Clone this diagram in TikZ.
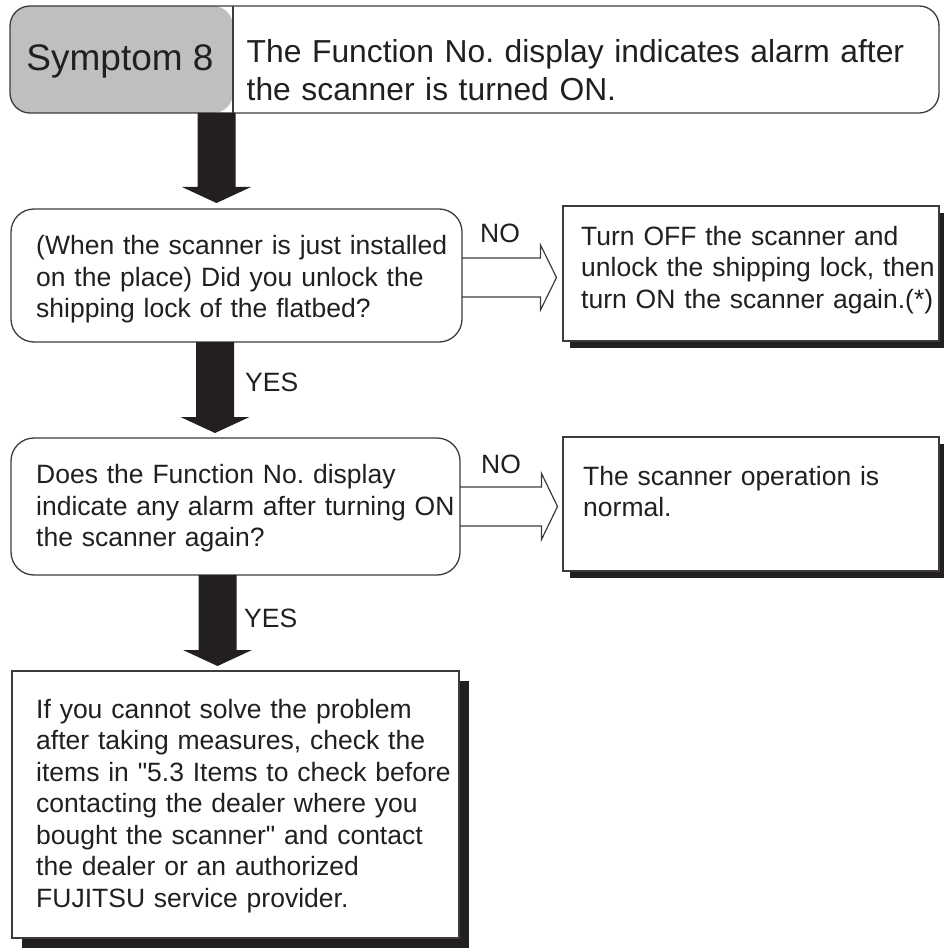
\documentclass[tikz,border=0pt]{standalone}
\usepackage{fontspec}
\setmainfont{Liberation Sans}
\usetikzlibrary{calc,shadows}
\definecolor{ink}{HTML}{231F20}
\definecolor{edgec}{HTML}{3C3C3C}
\definecolor{hdrgray}{HTML}{BEBFC1}
\begin{document}
\begin{tikzpicture}[x=1pt,y=-1pt,
  box/.style={draw=edgec, line width=1.3pt, fill=white, inner sep=0pt, outer sep=0pt, anchor=north west},
  roundbox/.style={box, rounded corners=23pt},
  shadowbox/.style={box, drop shadow={shadow xshift=#1, shadow yshift=-#1, fill=ink, opacity=1}},
  body/.style={font=\fontsize{26.5}{31.5}\selectfont, text width=440pt, align=left, inner sep=0pt, anchor=north west, text=ink},
  lbl/.style={font=\fontsize{26.5}{31.5}\selectfont, inner sep=0pt, anchor=base west, text=ink},
  outarrow/.style={draw=edgec, line width=1.2pt, line join=miter},
  fatarrow/.style={fill=ink}
]
\useasboundingbox (0,0) rectangle (943,949);

% header
\node[box, rounded corners=20pt, minimum width=929pt, minimum height=107pt,
  path picture={\fill[hdrgray] (path picture bounding box.north west) rectangle ([xshift=223pt]path picture bounding box.south west);
  \draw[edgec, line width=1.3pt] ([xshift=223pt]path picture bounding box.north west) -- ([xshift=223pt]path picture bounding box.south west);}] (hdr) at (10,6) {};
\node[font=\fontsize{37}{40}\selectfont, inner sep=0pt, anchor=base, text=ink] (sym) at (120,71) {Symptom 8};
\node[font=\fontsize{31.8}{38}\selectfont, text width=690pt, align=left, inner sep=0pt, anchor=north west, text=ink] (hdrtxt) at (246.5,35.4)
  {\strut The Function No.\ display indicates alarm after\\the scanner is turned ON.};

% boxes
\node[roundbox, minimum width=451pt, minimum height=133pt] (q1) at (11,209) {};
\node[box, shadowbox=7pt, minimum width=376pt, minimum height=135pt] (a1) at (563,206) {};
\node[roundbox, minimum width=449pt, minimum height=137pt] (q2) at (11,438) {};
\node[box, shadowbox=7pt, minimum width=376pt, minimum height=134pt] (a2) at (563,437) {};
\node[box, shadowbox=10pt, minimum width=447pt, minimum height=267pt] (res) at (12,671) {};

% texts
\node[body] (q1t) at (36,232.45) {\strut(When the scanner is just installed\\on the place) Did you unlock the\\shipping lock of the flatbed?};
\node[body, text width=360pt] (a1t) at (581,222.95) {\strut Turn OFF the scanner and\\unlock the shipping lock, then\\turn ON the scanner again.(*)};
\node[body] (q2t) at (36,461.45) {\strut Does the Function No.\ display\\indicate any alarm after turning ON\\the scanner again?};
\node[body, text width=350pt] (a2t) at (583,462.95) {\strut The scanner operation is\\normal.};
\node[body] (rest) at (36,695.95) {\strut If you cannot solve the problem\\after taking measures, check the\\items in \textquotedbl 5.3 Items to check before\\contacting the dealer where you\\bought the scanner\textquotedbl\ and contact\\the dealer or an authorized\\FUJITSU service provider.};

% labels
\node[lbl] (no1) at (480,243) {NO};
\node[lbl] (no2) at (481,473) {NO};
\node[lbl] (yes1) at (245,391) {YES};
\node[lbl] (yes2) at (244,627) {YES};

% fat down arrows
\coordinate (t1) at (216.5,203);
\coordinate (t2) at (215,433);
\coordinate (t3) at (217.5,666);
\fill[fatarrow] ($(hdr.south -| t1)+(-19,0)$) -- ($(t1)+(-19,-16)$) -- ($(t1)+(-34.5,-16)$) -- (t1) -- ($(t1)+(34.5,-16)$) -- ($(t1)+(19,-16)$) -- ($(hdr.south -| t1)+(19,0)$) -- cycle;
\fill[fatarrow] ($(q1.south -| t2)+(-19,0)$) -- ($(t2)+(-19,-16)$) -- ($(t2)+(-34.5,-16)$) -- (t2) -- ($(t2)+(34.5,-16)$) -- ($(t2)+(19,-16)$) -- ($(q1.south -| t2)+(19,0)$) -- cycle;
\fill[fatarrow] ($(q2.south -| t3)+(-19,0)$) -- ($(t3)+(-19,-16)$) -- ($(t3)+(-34.5,-16)$) -- (t3) -- ($(t3)+(34.5,-16)$) -- ($(t3)+(19,-16)$) -- ($(q2.south -| t3)+(19,0)$) -- cycle;

% outline NO arrows
\coordinate (n1) at (556.5,277.5);
\coordinate (n2) at (557.5,506.5);
\draw[outarrow] ($(q1.east |- n1)+(0,-19.5)$) -- ($(n1)+(-16,-19.5)$) -- ($(n1)+(-16,-32.5)$) -- (n1) -- ($(n1)+(-16,32.5)$) -- ($(n1)+(-16,19.5)$) -- ($(q1.east |- n1)+(0,19.5)$);
\draw[outarrow] ($(q2.east |- n2)+(0,-19.5)$) -- ($(n2)+(-16,-19.5)$) -- ($(n2)+(-16,-33)$) -- (n2) -- ($(n2)+(-16,33)$) -- ($(n2)+(-16,19.5)$) -- ($(q2.east |- n2)+(0,19.5)$);
\end{tikzpicture}
\end{document}
